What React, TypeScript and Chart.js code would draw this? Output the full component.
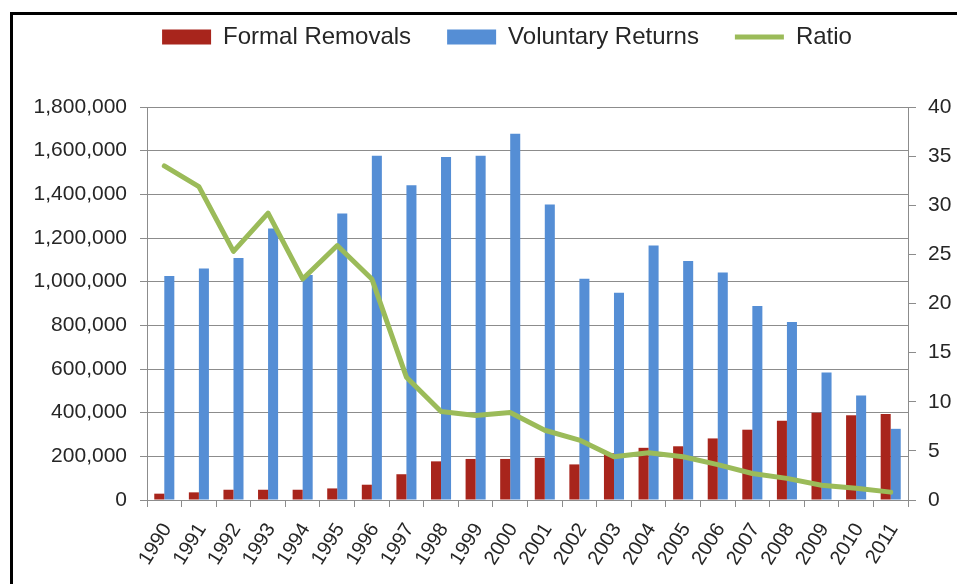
import React, { useEffect, useRef } from "react";
import { Chart, registerables } from "chart.js";

Chart.register(...registerables);

const years = ["1990","1991","1992","1993","1994","1995","1996","1997","1998","1999","2000","2001","2002","2003","2004","2005","2006","2007","2008","2009","2010","2011"];
const formalRemovals = [29000,35000,47000,47000,47000,53000,70000,118000,177000,188000,188000,193000,163000,214000,239000,246000,282000,322000,363000,400000,388000,394000];
const voluntaryReturns = [1026000,1060000,1108000,1243000,1030000,1312000,1577000,1442000,1571000,1577000,1678000,1353000,1013000,949000,1166000,1095000,1042000,889000,815000,584000,479000,326000];
const ratio = [34.0,31.9,25.3,29.2,22.5,25.9,22.5,12.5,9.0,8.6,8.9,7.1,6.1,4.4,4.8,4.4,3.6,2.7,2.2,1.5,1.2,0.8];

const leftMax = 1800000;
const leftStep = 200000;
const rightMax = 40;
const rightStep = 5;

const FONT = "'Liberation Sans', Arial, sans-serif";
const GRID = "#8c8c8c";
const TEXT = "#262626";

const legendPlugin = {
  id: "legendPlaceFix",
  beforeLayout(chart: any) {
    const legend = chart.legend;
    if (legend && !legend.__patched) {
      const orig = legend.fit;
      legend.fit = function () {
        orig.call(this);
        this.height = 107;
      };
      legend.__patched = true;
    }
  },
  afterLayout(chart: any) {
    const legend = chart.legend;
    if (legend) {
      legend.left = 57;
      legend.top = -11;
    }
  },
};

export default function App() {
  const ref = useRef<HTMLCanvasElement>(null);

  useEffect(() => {
    if (!ref.current) return;
    const chart = new Chart(ref.current, {
      type: "bar",
      data: {
        labels: years,
        datasets: [
          {
            type: "bar",
            label: "Formal Removals",
            data: formalRemovals,
            backgroundColor: "#A8251C",
            borderWidth: 0,
            pointStyle: "rect",
            yAxisID: "y",
            order: 1,
            categoryPercentage: 0.58,
            barPercentage: 1.0,
          } as any,
          {
            type: "bar",
            label: "Voluntary Returns",
            data: voluntaryReturns,
            backgroundColor: "#558ED5",
            borderWidth: 0,
            pointStyle: "rect",
            yAxisID: "y",
            order: 1,
            categoryPercentage: 0.58,
            barPercentage: 1.0,
          } as any,
          {
            type: "line",
            label: "Ratio",
            data: ratio,
            borderColor: "#9BBB59",
            backgroundColor: "#9BBB59",
            borderWidth: 5,
            borderCapStyle: "round",
            borderJoinStyle: "round",
            pointRadius: 0,
            pointStyle: "line",
            tension: 0,
            yAxisID: "y1",
            order: 0,
          } as any,
        ],
      },
      options: {
        responsive: false,
        animation: false,
        devicePixelRatio: 1,
        layout: { padding: { top: 0, left: 0, right: 0, bottom: 0 } },
        plugins: {
          tooltip: { enabled: false },
          legend: {
            position: "top",
            labels: {
              usePointStyle: true,
              pointStyleWidth: 49,
              boxHeight: 15,
              padding: 36,
              color: TEXT,
              font: { family: FONT, size: 24 },
              sort: (a: any, b: any) => a.datasetIndex - b.datasetIndex,
            },
          },
        },
        scales: {
          x: {
            grid: {
              display: true,
              drawOnChartArea: false,
              drawTicks: true,
              tickLength: 7,
              color: GRID,
              offset: true,
            },
            border: { display: true, color: GRID, width: 1 },
            ticks: {
              autoSkip: false,
              maxRotation: 58,
              minRotation: 58,
              padding: 12,
              labelOffset: 3,
              color: TEXT,
              font: { family: FONT, size: 20 },
            },
            afterFit: (s: any) => {
              s.height = 84;
            },
          },
          y: {
            position: "left",
            min: 0,
            max: leftMax,
            grid: {
              color: GRID,
              tickLength: 7,
              drawTicks: true,
            },
            border: { display: true, color: GRID, width: 1 },
            ticks: {
              stepSize: leftStep,
              padding: 13,
              color: TEXT,
              font: { family: FONT, size: 21 },
              callback: (v: any) => Number(v).toLocaleString("en-US"),
            },
            afterFit: (s: any) => {
              s.width = 147;
            },
          },
          y1: {
            position: "right",
            min: 0,
            max: rightMax,
            grid: {
              drawOnChartArea: false,
              color: GRID,
              tickLength: 8,
              drawTicks: true,
            },
            border: { display: true, color: GRID, width: 1 },
            ticks: {
              stepSize: rightStep,
              padding: 12,
              color: TEXT,
              font: { family: FONT, size: 21 },
            },
            afterFit: (s: any) => {
              s.width = 49;
            },
          },
        },
      },
      plugins: [legendPlugin],
    });
    return () => chart.destroy();
  }, []);

  return (
    <div
      style={{
        position: "fixed",
        left: 0,
        top: 0,
        width: 957,
        height: 584,
        overflow: "hidden",
        background: "#ffffff",
      }}
    >
      <div
        style={{
          position: "absolute",
          left: 10,
          top: 12,
          width: 1000,
          height: 700,
          borderLeft: "3px solid #000",
          borderTop: "3px solid #000",
        }}
      />
      <canvas
        ref={ref}
        width={957}
        height={584}
        style={{ position: "absolute", left: 0, top: 0, width: 957, height: 584 }}
      />
    </div>
  );
}
